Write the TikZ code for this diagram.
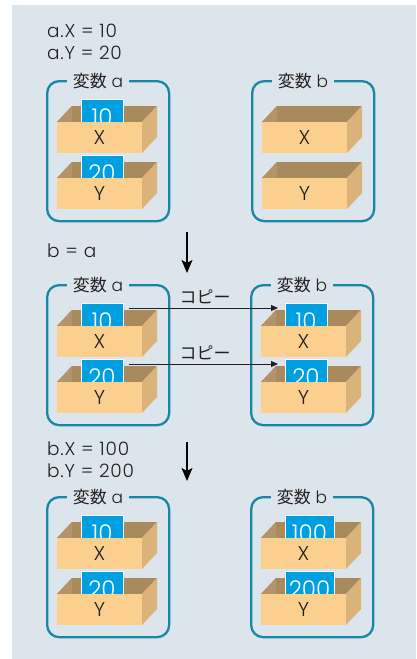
\documentclass[tikz,border=0pt]{standalone}
\usepackage{fontspec}
\setmainfont{Poppins Light}[Numbers=Monospaced]
\newfontfamily\codefont{Poppins Light}[Numbers=Monospaced, LetterSpace=4]
\newfontfamily\jp{Noto Sans CJK JP}
\usetikzlibrary{arrows.meta}

\definecolor{bgcol}{HTML}{DDE5EC}
\definecolor{framecol}{HTML}{1A86A6}
\definecolor{frontcol}{HTML}{FBD08F}
\definecolor{sidecol}{HTML}{DAB37A}
\definecolor{backcol}{HTML}{A88A5D}
\definecolor{leftcol}{HTML}{B3946A}
\definecolor{cardcol}{HTML}{00A0E0}
\definecolor{inkcol}{HTML}{231F20}

\tikzset{
  varframe/.style={draw=framecol, line width=2.3pt, rounded corners=12pt,
    minimum width=122pt, minimum height=140pt, inner sep=0pt},
  frametitle/.style={fill=bgcol, inner xsep=6pt, inner ysep=1pt, text=inkcol,
    font=\fontsize{17pt}{19pt}\selectfont},
  card/.style={fill=cardcol, draw=white, line width=0.7pt, minimum height=28pt, inner sep=0pt},
  cardnum/.style={text=white, inner sep=0pt, text depth=0pt, font=\fontsize{23pt}{26pt}\selectfont},
  cratelabel/.style={text=inkcol, inner sep=0pt, text height=14pt, text depth=0pt,
    font=\fontsize{20pt}{23pt}\selectfont},
  code/.style={text=inkcol, inner sep=0pt, font=\codefont\fontsize{18.5pt}{21pt}\selectfont},
  copylabel/.style={text=inkcol, inner sep=0pt, font=\jp\fontsize{17pt}{19pt}\selectfont},
  copyarrow/.style={draw=inkcol, line width=0.8pt, -{Triangle[width=6pt,length=7pt]}},
  steparrow/.style={draw=black, line width=1.6pt, -{Stealth[width=11pt,length=13pt,inset=3pt]}},
}

% One open crate: #1 name, #2/#3 front top-left corner, #4 letter,
% #5 value on the card, #6 card width (0 = no card)
\newcommand{\drawcrate}[6]{%
  \fill[backcol] (#2,#3) -- (#2+85,#3) -- (#2+100,#3-16) -- (#2+15,#3-16) -- cycle;
  \fill[leftcol] (#2,#3) -- (#2+15,#3-16) -- (#2+15,#3) -- cycle;
  \ifdim #6pt>0pt
    \node[card, minimum width=#6pt, anchor=north west] (#1card) at (#2+24,#3-23) {};
    \node[cardnum, anchor=base] (#1num) at (#2+24+#6/2,#3+3) {#5};
  \fi
  \fill[frontcol] (#2,#3) rectangle (#2+85,#3+31);
  \fill[sidecol] (#2+85,#3) -- (#2+100,#3-16) -- (#2+100,#3+15) -- (#2+85,#3+31) -- cycle;
  \node[cratelabel, anchor=base] (#1lbl) at (#2+42.5,#3+22) {#4};
}

% A variable frame with its title: #1 name, #2 left, #3 top, #4 variable letter
\newcommand{\drawframe}[4]{%
  \node[varframe, anchor=north west] (#1) at (#2,#3) {};
  \node[frametitle] (#1title) at (#2+52,#3+1.5) {{\jp 変数} #4};
}

\begin{document}
\begin{tikzpicture}[x=1pt, y=-1pt]
  \useasboundingbox (0,0) rectangle (416,659);
  \fill[bgcol] (12,5) rectangle (416,659);

  % step 1: a.X = 10, a.Y = 20
  \node[code, anchor=base west] (s1a) at (47,37.5) {a.X = 10};
  \node[code, anchor=base west] (s1b) at (47,59.5) {a.Y = 20};
  \drawframe{fa1}{46}{80}{a}
  \drawcrate{a1X}{57}{122}{X}{10}{42}
  \drawcrate{a1Y}{57}{178}{Y}{20}{42}
  \drawframe{fb1}{251}{80}{b}
  \drawcrate{b1X}{262}{122}{X}{}{0}
  \drawcrate{b1Y}{262}{178}{Y}{}{0}

  % step 2: b = a
  \node[code, anchor=base west] (s2) at (47,257) {b = a};
  \coordinate (d1s) at (187,232);
  \coordinate (d1e) at (187,273);
  \draw[steparrow] (d1s) -- (d1e);
  \drawframe{fa2}{46}{284}{a}
  \drawcrate{a2X}{57}{326}{X}{10}{42}
  \drawcrate{a2Y}{57}{382}{Y}{20}{42}
  \drawframe{fb2}{250}{284}{b}
  \drawcrate{b2X}{261}{326}{X}{10}{42}
  \drawcrate{b2Y}{261}{382}{Y}{20}{42}
  \draw[copyarrow] ([xshift=5pt,yshift=-5pt]a2Xcard.north east) -- ([xshift=-7pt,yshift=-5pt]b2Xcard.north west);
  \draw[copyarrow] ([xshift=5pt,yshift=-5pt]a2Ycard.north east) -- ([xshift=-7pt,yshift=-5pt]b2Ycard.north west);
  \node[copylabel] (cp1) at (205,297) {コピー};
  \node[copylabel] (cp2) at (205,353) {コピー};

  % step 3: b.X = 100, b.Y = 200
  \node[code, anchor=base west] (s3a) at (47,455) {b.X = 100};
  \node[code, anchor=base west] (s3b) at (47,477) {b.Y = 200};
  \coordinate (d2s) at (187,442);
  \coordinate (d2e) at (187,481);
  \draw[steparrow] (d2s) -- (d2e);
  \drawframe{fa3}{46}{496}{a}
  \drawcrate{a3X}{57}{538}{X}{10}{42}
  \drawcrate{a3Y}{57}{594}{Y}{20}{42}
  \drawframe{fb3}{250}{496}{b}
  \drawcrate{b3X}{261}{538}{X}{100}{49}
  \drawcrate{b3Y}{261}{594}{Y}{200}{49}
\end{tikzpicture}
\end{document}
